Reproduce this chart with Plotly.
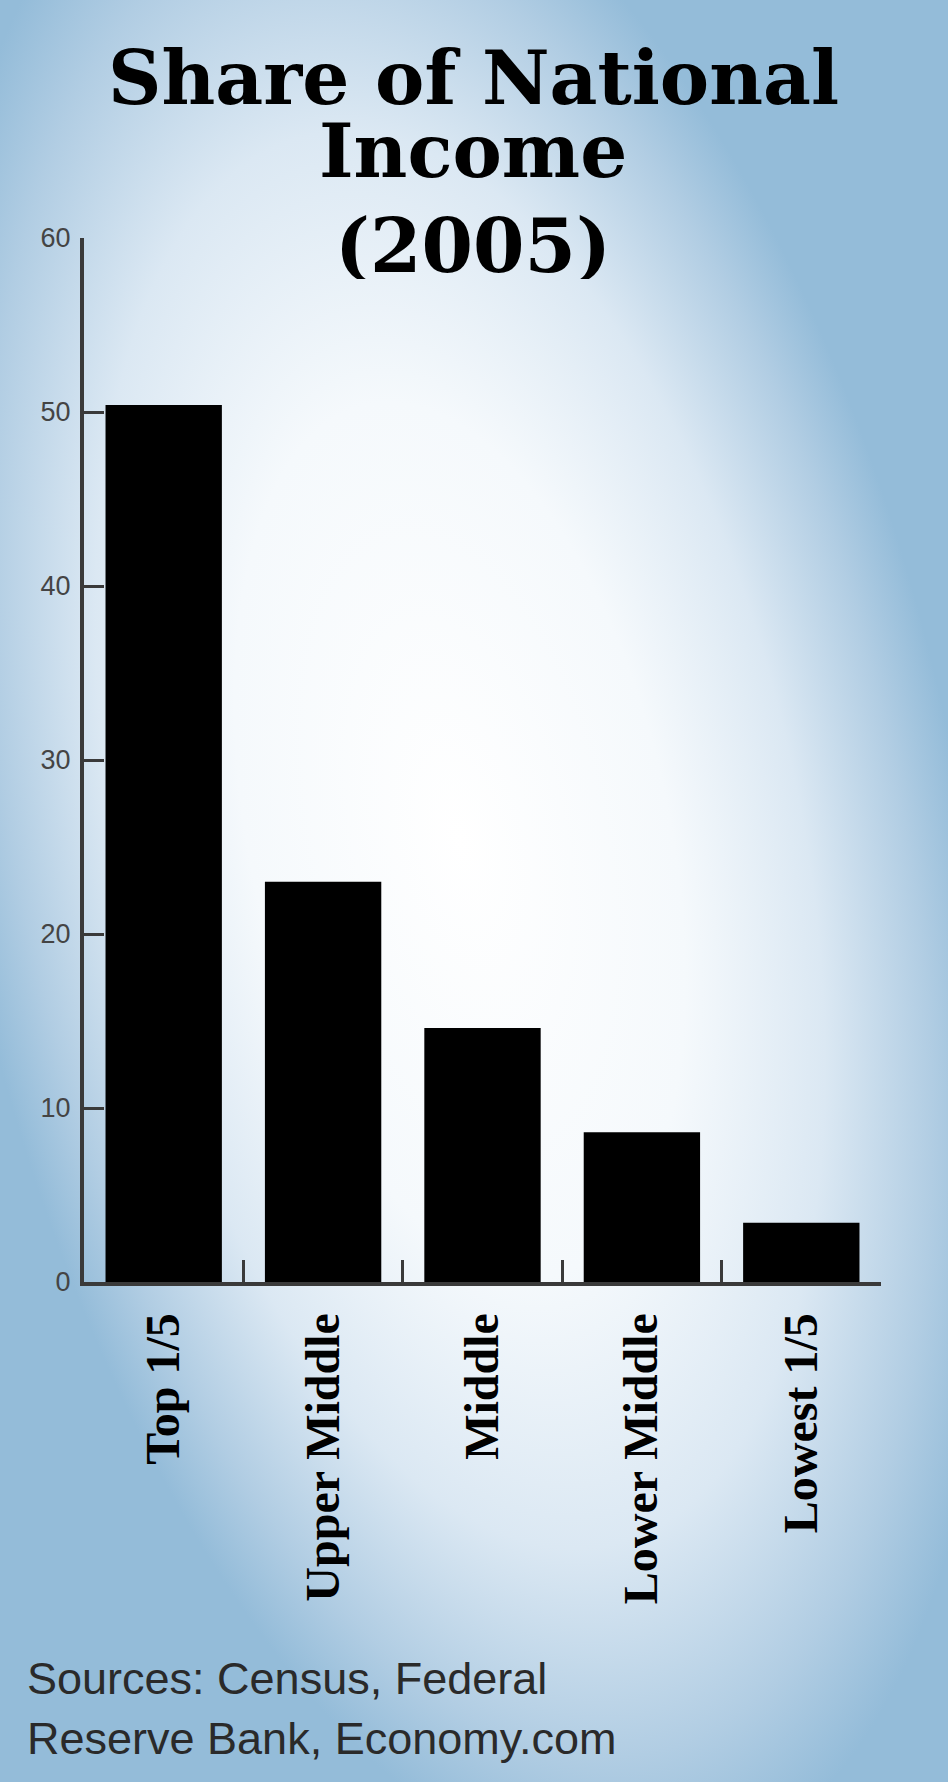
import base64
import plotly.graph_objects as go

# ---- data ----
categories = ["Top 1/5", "Upper Middle", "Middle", "Lower Middle", "Lowest 1/5"]
share = [50.4, 23.0, 14.6, 8.6, 3.4]
y_ticks = [0, 10, 20, 30, 40, 50, 60]
title_lines = ["Share of National", "Income", "(2005)"]
source_lines = ["Sources: Census, Federal", "Reserve Bank, Economy.com"]

W, H = 948, 1782
L, R, T, B = 84, 67, 238, 500
PW, PH = W - L - R, H - T - B

def px_to_paper_y(ypx):
    return (H - B - ypx) / PH

def px_to_paper_x(xpx):
    return (xpx - L) / PW

# soft radial gradient background as inline svg image
svg = (
    f'<svg xmlns="http://www.w3.org/2000/svg" width="{W}" height="{H}" viewBox="0 0 {W} {H}">'
    '<defs><radialGradient id="g" gradientUnits="userSpaceOnUse" cx="0" cy="0" r="1" '
    'gradientTransform="translate(460 840) rotate(-12) scale(500 1060)">'
    '<stop offset="0" stop-color="#ffffff"/>'
    '<stop offset="0.42" stop-color="#f5f9fc"/>'
    '<stop offset="0.68" stop-color="#dbe8f3"/>'
    '<stop offset="0.88" stop-color="#b1cde3"/>'
    '<stop offset="1" stop-color="#94bcd9"/>'
    '</radialGradient></defs>'
    f'<rect width="{W}" height="{H}" fill="url(#g)"/></svg>'
)
src = "data:image/svg+xml;base64," + base64.b64encode(svg.encode()).decode()

fig = go.Figure()
fig.add_trace(go.Bar(x=categories, y=share, marker=dict(color="#000000", line=dict(width=0)),
                     hoverinfo="x+y"))

axis_col = "#3a3a3a"
fig.update_layout(
    width=W, height=H,
    margin=dict(l=L, r=R, t=T, b=B, pad=0),
    paper_bgcolor="#94bcd9",
    plot_bgcolor="rgba(0,0,0,0)",
    showlegend=False,
    bargap=0.27,
    images=[dict(source=src, xref="paper", yref="paper",
                 x=-L / PW, y=1 + T / PH, sizex=W / PW, sizey=H / PH,
                 sizing="stretch", xanchor="left", yanchor="top", layer="below")],
    xaxis=dict(
        showline=True, linewidth=4, linecolor=axis_col,
        ticks="inside", tickson="boundaries", ticklen=22, tickwidth=3, tickcolor=axis_col,
        tickangle=-90, ticklabelstandoff=8,
        tickfont=dict(family="Liberation Serif", size=48, color="#000000", weight="bold"),
        showgrid=False, zeroline=False,
    ),
    yaxis=dict(
        range=[0, 60], tickvals=y_ticks, ticktext=[str(v) for v in y_ticks],
        showline=True, linewidth=4, linecolor=axis_col,
        ticks="inside", ticklen=20, tickwidth=3, tickcolor=axis_col,
        ticklabelstandoff=4,
        tickfont=dict(family="Liberation Sans", size=27, color="#444444"),
        showgrid=False, zeroline=False,
    ),
)

title_y = [78, 151, 246]
for txt, ypx in zip(title_lines, title_y):
    fig.add_annotation(text=txt, xref="paper", yref="paper",
                       x=px_to_paper_x(473), y=px_to_paper_y(ypx),
                       xanchor="center", yanchor="middle", showarrow=False,
                       height=66, valign="middle",
                       font=dict(family="DejaVu Serif", size=74, color="#000000", weight="bold"))

source_y = [1678, 1738]
for txt, ypx in zip(source_lines, source_y):
    fig.add_annotation(text=txt, xref="paper", yref="paper",
                       x=px_to_paper_x(25), y=px_to_paper_y(ypx),
                       xanchor="left", yanchor="middle", showarrow=False,
                       font=dict(family="Liberation Sans", size=45, color="#2a2a2a"))

fig.write_html("out.html",
               config={"displayModeBar": False},
               post_script="document.body.style.margin='0';document.body.style.padding='0';")
